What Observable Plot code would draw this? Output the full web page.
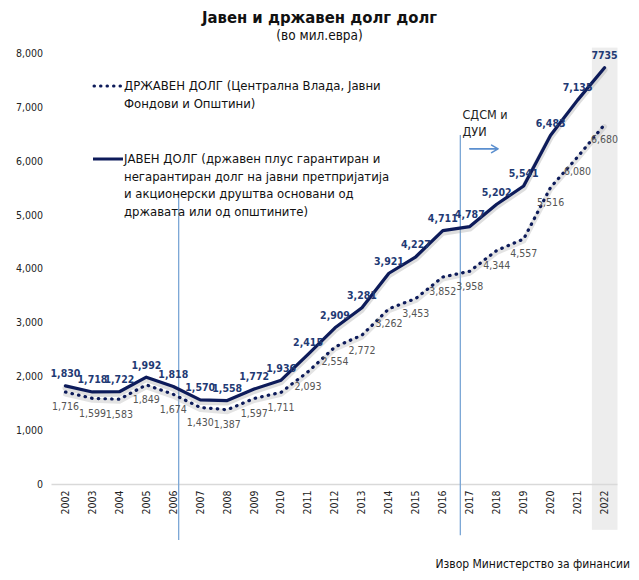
<!DOCTYPE html>
<html><head><meta charset="utf-8">
<script src="https://cdn.jsdelivr.net/npm/d3@7"></script>
<script src="https://cdn.jsdelivr.net/npm/@observablehq/plot@0.6"></script>
<style>
body{margin:0;background:#fff;font-family:"DejaVu Sans Condensed","DejaVu Sans",sans-serif;}
#wrap{position:relative;width:639px;height:580px;}
#title{position:absolute;top:8px;left:0;width:639px;text-align:center;font-weight:bold;font-size:16.5px;color:#111;}
#sub{position:absolute;top:27px;left:0;width:639px;text-align:center;font-size:13.5px;color:#111;}
#chart{position:absolute;top:44px;left:0;}
#caption{position:absolute;top:557px;right:9px;font-size:12px;color:#111;}
.leg{position:absolute;font-size:13px;line-height:17.5px;color:#111;}
.leg svg{position:absolute;}
</style></head>
<body><div id="wrap">
<div id="title">Јавен и државен долг долг</div>
<div id="sub">(во мил.евра)</div>
<div id="chart"></div>
<div class="leg" style="left:92px;top:77px;width:330px;">
 <svg width="32" height="10" style="left:0;top:4px"><line x1="2" y1="5" x2="30" y2="5" stroke="#0d1b5a" stroke-width="3" stroke-dasharray="0.5 6" stroke-linecap="round"/></svg>
 <div style="margin-left:32px">ДРЖАВЕН ДОЛГ (Централна Влада, Јавни<br>Фондови и Општини)</div>
</div>
<div class="leg" style="left:92px;top:150px;width:330px;">
 <svg width="32" height="10" style="left:0;top:4px"><line x1="1" y1="5" x2="31" y2="5" stroke="#0d1b5a" stroke-width="3"/></svg>
 <div style="margin-left:32px">ЈАВЕН ДОЛГ (државен плус гарантиран и<br>негарантиран долг на јавни претпријатија<br>и акционерски друштва основани од<br>државата или од општините)</div>
</div>
<div id="caption">Извор Министерство за финансии</div>
</div>
<script>
const years = [2002,2003,2004,2005,2006,2007,2008,2009,2010,2011,2012,2013,2014,2015,2016,2017,2018,2019,2020,2021,2022];
const publicDebt = [1830,1718,1722,1992,1818,1570,1558,1772,1936,2415,2909,3281,3921,4227,4711,4787,5202,5541,6483,7135,7735];
const stateDebt = [1716,1599,1583,1849,1674,1430,1387,1597,1711,2093,2554,2772,3262,3453,3852,3958,4344,4557,5516,6080,6680];
const publicLabels = publicDebt.map((v,i)=> i===publicDebt.length-1 ? String(v) : d3.format(",")(v));
const stateLabels = stateDebt.map(v=>d3.format(",")(v));
const yTicks = [0,1000,2000,3000,4000,5000,6000,7000,8000];
const markers = [{year:2006.2, y1:5420, y2:-1040},{year:2016.65, y1:6480, y2:-950}];
const highlight = [{x1:2021.55, x2:2022.5, y1:8100, y2:-850}];
const annotation = [{x:2016.73, y:6850, text:"СДСМ и"},{x:2016.73, y:6550, text:"ДУИ"}];
const arrowData = [{x1:2017.0, x2:2018.05, y:6230}];

const pub = years.map((y,i)=>({year:y, value:publicDebt[i], label:publicLabels[i]}));
const st = years.map((y,i)=>({year:y, value:stateDebt[i], label:stateLabels[i]}));
const navy = "#0d1b5a";
const fmt = d3.format(",");

const plot = Plot.plot({
  width:639, height:505,
  marginLeft:51.5, marginRight:21.5, marginTop:9, marginBottom:65,
  style:{fontFamily:'"DejaVu Sans Condensed","DejaVu Sans",sans-serif', fontSize:"10px", color:"#222", background:"transparent"},
  x:{domain:[2001.5,2022.5], axis:null},
  y:{domain:[0,8000], axis:null},
  marks:[
    Plot.rect(highlight,{x1:"x1",x2:"x2",y1:"y1",y2:"y2",fill:"#ededed"}),
    Plot.ruleY([0],{stroke:"#d9d9d9",strokeWidth:1.5}),
    Plot.axisY({ticks:yTicks, tickSize:0, tickPadding:9, tickFormat:d=>fmt(d), fontSize:10.5}),
    Plot.axisX({ticks:years, tickSize:0, tickPadding:6, tickRotate:-90, tickFormat:d=>String(d), fontSize:10.5}),
    Plot.ruleX(markers,{x:"year",y1:"y1",y2:"y2",stroke:"#7aa6d6",strokeWidth:1.3}),
    Plot.line(st,{x:"year",y:"value",stroke:"#b0b0b0",strokeOpacity:0.35,strokeWidth:5,dy:2}),
    Plot.line(pub,{x:"year",y:"value",stroke:"#a0a0a0",strokeOpacity:0.35,strokeWidth:6,dy:2}),
    Plot.line(st,{x:"year",y:"value",stroke:navy,strokeWidth:3.2,strokeDasharray:"0.5 6.2",strokeLinecap:"round"}),
    Plot.line(pub,{x:"year",y:"value",stroke:navy,strokeWidth:3.2}),
    Plot.text(pub,{x:"year",y:"value",text:"label",dy:-12,fill:"#1f3a74",fontWeight:"bold",fontSize:10.5}),
    Plot.text(st,{x:"year",y:"value",text:"label",dy:15,fill:"#555",fontSize:10.5}),
    Plot.text(annotation,{x:"x",y:"y",text:"text",textAnchor:"start",fontSize:12.5,fill:"#222"}),
    Plot.arrow(arrowData,{x1:"x1",x2:"x2",y1:"y",y2:"y",stroke:"#5b8fcf",strokeWidth:1.6,headLength:7})
  ]
});
document.getElementById("chart").appendChild(plot);
</script>
</body></html>
